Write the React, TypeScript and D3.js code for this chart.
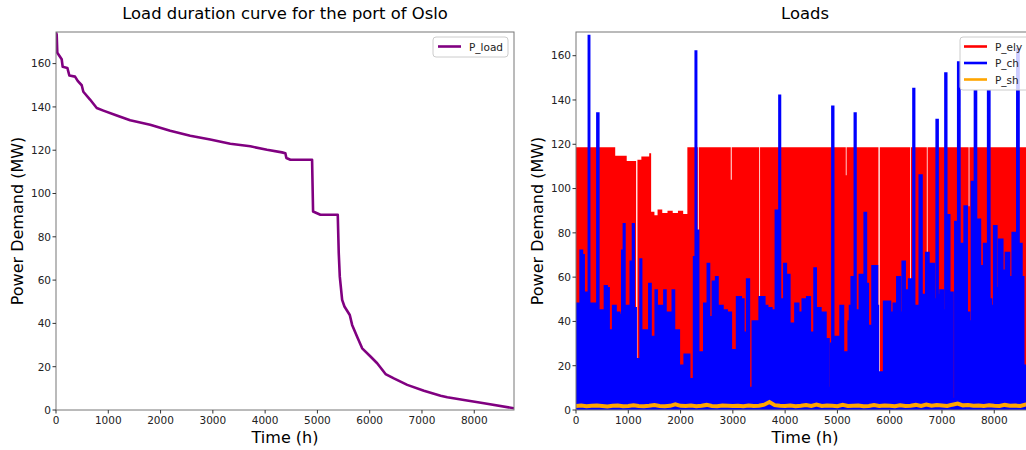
import { scaleLinear, line, area, curveStepAfter, curveStep } from "d3"

// load duration curve (sorted), hours and MW
const durHours = [0, 13, 25, 109, 128, 217, 255, 364, 415, 492, 523, 651, 779, 906, 1162, 1418, 1801, 2184, 2567, 2950, 3333, 3716, 4036, 4323, 4387, 4406, 4483, 4898, 4917, 5057, 5389, 5408, 5428, 5473, 5517, 5619, 5664, 5772, 5856, 6015, 6143, 6303, 6462, 6718, 7037, 7356, 7484, 7803, 8186, 8760]
const durLoad = [174.5, 173.4, 165, 162, 158.5, 158, 154.5, 154, 152, 150, 147, 143.4, 139.5, 138.3, 136, 133.8, 131.8, 129, 126.7, 124.9, 123, 121.8, 120.2, 119, 118.6, 116.4, 115.6, 115.6, 91.7, 90.2, 90.2, 72.5, 61.6, 50.9, 47.8, 43.9, 39.3, 33.1, 28.5, 24.7, 21.6, 16.6, 14.6, 11.6, 8.9, 6.6, 5.9, 4.6, 3.1, 0.8]

// P_ely upper level, step changes (hour, MW)
const elyHours = [0, 750, 970, 1150, 1175, 1250, 1400, 1437, 1500, 1560, 1650, 1750, 1850, 1950, 2050, 2130, 2330, 2348, 2960, 2978, 3505, 3520, 5160, 5175, 5785, 5810, 6390, 6405, 6710, 6725, 7510, 7525, 8760]
const elyLevel = [118.7, 114.8, 112.5, 2, 113, 114.5, 116, 89.5, 88, 90.5, 89, 90, 89, 90, 88.5, 118.7, 0, 118.7, 104, 118.7, 44, 118.7, 106, 118.7, 5, 118.7, 52, 118.7, 63, 118.7, 92, 118.7, 118.7]

// P_ch envelope (hour, MW)
const chHours = [0, 20, 75, 95, 140, 160, 200, 235, 249, 262, 285, 300, 315, 360, 390, 421, 440, 470, 525, 540, 560, 620, 635, 650, 700, 715, 750, 770, 800, 860, 875, 888, 905, 920, 940, 975, 990, 1005, 1035, 1054, 1075, 1098, 1115, 1135, 1155, 1170, 1195, 1225, 1239, 1260, 1290, 1310, 1330, 1350, 1380, 1418, 1440, 1490, 1510, 1533, 1560, 1580, 1640, 1670, 1705, 1725, 1740, 1800, 1830, 1865, 1890, 1950, 1990, 2060, 2090, 2150, 2185, 2250, 2260, 2280, 2293, 2310, 2330, 2350, 2400, 2430, 2470, 2500, 2535, 2560, 2600, 2630, 2660, 2695, 2725, 2790, 2820, 2950, 2980, 3045, 3110, 3140, 3170, 3240, 3300, 3320, 3360, 3397, 3493, 3525, 3590, 3620, 3700, 3780, 3858, 3880, 3895, 3915, 3959, 4004, 4030, 4068, 4100, 4115, 4130, 4160, 4227, 4280, 4387, 4451, 4500, 4540, 4578, 4600, 4650, 4706, 4750, 4800, 4866, 4890, 4911, 4935, 4962, 5025, 5089, 5130, 5170, 5200, 5225, 5250, 5290, 5320, 5339, 5360, 5377, 5473, 5500, 5537, 5560, 5610, 5640, 5696, 5750, 5770, 5785, 5800, 5840, 5860, 5920, 5980, 6040, 6110, 6175, 6220, 6270, 6310, 6340, 6398, 6440, 6462, 6480, 6540, 6603, 6620, 6660, 6730, 6760, 6815, 6880, 6910, 6930, 7005, 7030, 7050, 7075, 7095, 7114, 7170, 7240, 7264, 7290, 7324, 7350, 7407, 7452, 7500, 7540, 7560, 7580, 7610, 7644, 7665, 7688, 7771, 7835, 7860, 7899, 7920, 7963, 8027, 8060, 8123, 8190, 8250, 8320, 8378, 8420, 8455, 8480, 8506, 8540, 8575, 8600]
const chLoad = [18, 48, 48, 72, 70, 21, 53, 30, 169, 35, 48, 12, 48, 48, 25, 134, 30, 45, 45, 25, 56, 55, 20, 36, 36, 47, 47, 18, 44, 43, 20, 72, 30, 84, 25, 47, 10, 47, 47, 67, 35, 84, 30, 46, 3, 3, 23, 23, 68, 30, 36, 18, 36, 36, 20, 57, 33, 10, 33, 54, 40, 47, 47, 25, 54, 40, 44, 44, 28, 54, 36, 36, 20, 20, 25, 25, 14, 14, 69, 40, 162, 50, 81, 25, 26, 18, 48, 48, 66, 42, 42, 58, 35, 60, 47, 47, 45, 44, 27, 27, 51, 51, 50, 35, 59, 10, 10, 40, 40, 51, 51, 47, 46, 45, 90, 40, 142, 40, 50, 66, 40, 61, 39, 10, 39, 39, 48, 44, 50, 51, 35, 12, 64, 46, 46, 44, 44, 32, 10, 30, 137, 30, 33, 33, 47, 26, 26, 10, 40, 47, 60, 40, 134, 40, 45, 61, 40, 89, 57, 38, 38, 65, 65, 47, 5, 5, 17, 10, 49, 49, 44, 48, 60, 44, 67, 15, 54, 59, 40, 145, 40, 47, 106, 40, 52, 71, 45, 66, 50, 131, 52, 54, 6, 45, 152, 50, 88, 53, 5, 85, 60, 157, 60, 75, 92, 44, 8, 40, 103, 60, 144, 60, 86, 65, 75, 55, 144, 50, 47, 83, 55, 77, 63, 71, 60, 80, 55, 163, 55, 75, 60, 20, 0]

// P_sh, one value per 100 h
const shLoad = [1.8, 2, 1.7, 1.9, 2, 1.8, 1.6, 1.9, 2, 1.7, 1.8, 2.1, 1.8, 1.7, 1.9, 2.2, 1.8, 1.7, 1.9, 2.6, 1.9, 1.8, 2, 1.7, 1.9, 2.3, 1.8, 1.7, 2, 1.9, 1.8, 1.9, 1.7, 2, 1.8, 1.9, 2.4, 3.6, 2.2, 1.9, 1.8, 2, 1.7, 1.9, 2.2, 1.8, 2.4, 1.8, 2, 1.9, 1.7, 2.3, 1.8, 1.9, 2, 1.7, 1.8, 2.2, 1.8, 2, 1.9, 1.7, 2.1, 1.8, 1.9, 2.3, 1.8, 2.5, 1.9, 2.2, 2, 1.8, 2.4, 2.9, 2.1, 2.3, 1.9, 2, 1.8, 2.1, 1.9, 1.8, 2.3, 1.9, 2, 1.8, 2.5, 1.9]

const xTicks = [0, 1000, 2000, 3000, 4000, 5000, 6000, 7000, 8000]
const yTicks = [0, 20, 40, 60, 80, 100, 120, 140, 160]

const FONT = "DejaVu Sans, sans-serif"
const TOP = 32
const BOTTOM = 410
const W = 458

function Axes({ left, yMax, title, children, id }: any) {
  const x = scaleLinear().domain([0, 8760]).range([left, left + W])
  const y = scaleLinear().domain([0, yMax]).range([BOTTOM, TOP])
  return (
    <g fontFamily={FONT}>
      <text x={left + W / 2} y={19} textAnchor="middle" fontSize={16.4} fill="#000">{title}</text>
      <clipPath id={id}>
        <rect x={left} y={TOP} width={W} height={BOTTOM - TOP} />
      </clipPath>
      <g clipPath={`url(#${id})`}>{children(x, y)}</g>
      <rect x={left} y={TOP} width={W} height={BOTTOM - TOP} fill="none" stroke="#777" strokeWidth={1} />
      {xTicks.map(t => (
        <g key={t}>
          <line x1={x(t)} x2={x(t)} y1={BOTTOM} y2={BOTTOM + 3.5} stroke="#333" />
          <text x={x(t)} y={BOTTOM + 14} textAnchor="middle" fontSize={10.5} fill="#222">{t}</text>
        </g>
      ))}
      {yTicks.map(t => (
        <g key={t}>
          <line x1={left - 3.5} x2={left} y1={y(t)} y2={y(t)} stroke="#333" />
          <text x={left - 5} y={y(t) + 3.8} textAnchor="end" fontSize={10.5} fill="#222">{t}</text>
        </g>
      ))}
      <text x={left + W / 2} y={443} textAnchor="middle" fontSize={16} fill="#000">Time (h)</text>
      <text transform={`translate(${left - 33},${(TOP + BOTTOM) / 2}) rotate(-90)`} textAnchor="middle" fontSize={16} fill="#000">Power Demand (MW)</text>
    </g>
  )
}

export default function App() {
  const durPts = durHours.map((h, i) => [h, durLoad[i]] as [number, number])
  const elyPts = elyHours.map((h, i) => [h, elyLevel[i]] as [number, number])
  const chPts = chHours.map((h, i) => [h, chLoad[i]] as [number, number])
  const shPts = shLoad.map((v, i) => [Math.min(i * 100, 8760), v] as [number, number])

  return (
    <svg width={1026} height={450} style={{ position: "absolute", left: 0, top: 0, background: "#fff" }}>
      <Axes left={56} yMax={174.6} title="Load duration curve for the port of Oslo" id="clipL">
        {(x: any, y: any) => (
          <path d={line().x(d => x(d[0])).y(d => y(d[1]))(durPts) || ""} fill="none" stroke="#800080" strokeWidth={2.6} strokeLinejoin="round" />
        )}
      </Axes>
      <g fontFamily={FONT}>
        <rect x={433} y={37} width={75} height={20} rx={3} fill="#fff" fillOpacity={0.8} stroke="#ccc" />
        <line x1={438} x2={461} y1={46.5} y2={46.5} stroke="#800080" strokeWidth={2.6} />
        <text x={469} y={50.5} fontSize={10.5} fill="#222">P_load</text>
      </g>

      <Axes left={576} yMax={170.7} title="Loads" id="clipR">
        {(x: any, y: any) => {
          const elyArea = area<[number, number]>().curve(curveStepAfter).x(d => x(d[0])).y0(y(0)).y1(d => y(d[1]))
          const chArea = area<[number, number]>().curve(curveStep).x(d => x(d[0])).y0(y(0)).y1(d => y(d[1]))
          const chLine = line<[number, number]>().curve(curveStep).x(d => x(d[0])).y(d => y(d[1]))
          const shLine = line<[number, number]>().x(d => x(d[0])).y(d => y(d[1]))
          return (
            <g>
              <path d={elyArea(elyPts) || ""} fill="#ff0000" />
              <path d={chArea(chPts) || ""} fill="#0000ff" />
              <path d={chLine(chPts) || ""} fill="none" stroke="#0000ff" strokeWidth={2.2} />
              <path d={shLine(shPts) || ""} fill="none" stroke="#ffa500" strokeWidth={4} />
            </g>
          )
        }}
      </Axes>
      <g fontFamily={FONT}>
        <rect x={960} y={37} width={80} height={53} rx={3} fill="#fff" fillOpacity={0.8} stroke="#ccc" />
        {[["P_ely", "#ff0000"], ["P_ch", "#0000ff"], ["P_sh", "#ffa500"]].map(([name, c], i) => (
          <g key={name}>
            <line x1={964} x2={987} y1={46.5 + i * 16.5} y2={46.5 + i * 16.5} stroke={c} strokeWidth={2.6} />
            <text x={995} y={50.5 + i * 16.5} fontSize={10.5} fill="#222">{name}</text>
          </g>
        ))}
      </g>
    </svg>
  )
}
